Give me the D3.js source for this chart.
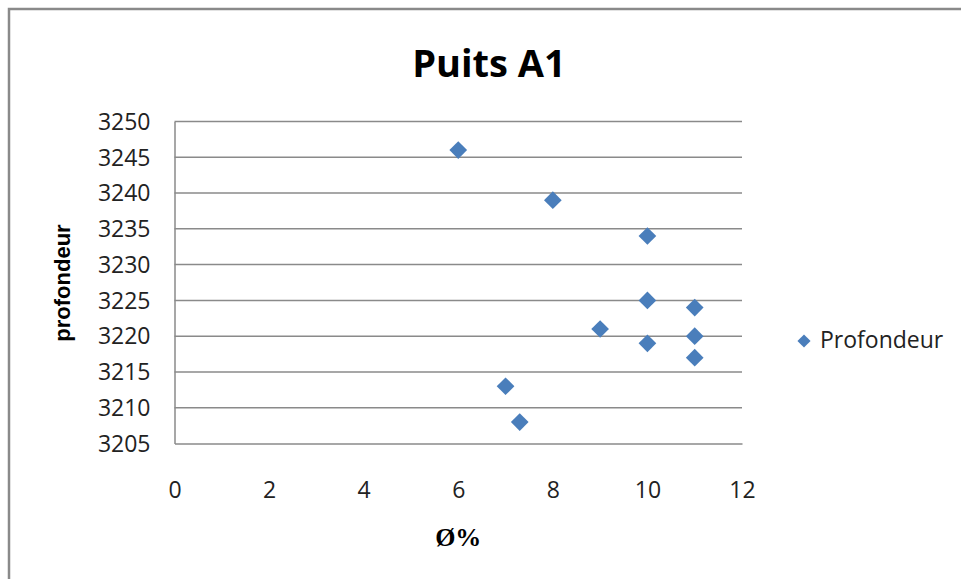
<!DOCTYPE html>
<html>
<head>
<meta charset="utf-8">
<script src="https://cdn.jsdelivr.net/npm/d3@7"></script>
<style>
  body { margin: 0; background: #fff; }
  .tick-label { font-family: "Open Sans", sans-serif; font-size: 23px; fill: #222; }
</style>
</head>
<body>
<div id="chart"></div>
<script>
// values
const porosite = [6, 8, 10, 10, 11, 9, 11, 10, 11, 7, 7.3];
const profondeur = [3246, 3239, 3234, 3225, 3224, 3221, 3220, 3219, 3217, 3213, 3208];
const xTicks = [0, 2, 4, 6, 8, 10, 12];
const yTicks = [3205, 3210, 3215, 3220, 3225, 3230, 3235, 3240, 3245, 3250];
const seriesName = 'Profondeur';

let W = 961, H = 579,
    margin = {top: 121.5, left: 174.5, right: 219, bottom: 135.5},
    blue = '#4a7ebb',
    grey = '#8a8a8a';

let svg = d3.select('#chart').append('svg')
    .attr('width', W)
    .attr('height', H);

// frame of the chart object (only top and left edges show)
svg.append('path')
    .attr('d', `M9,${H} V9 H${W}`)
    .attr('fill', 'none')
    .attr('stroke', grey)
    .attr('stroke-width', 2.5);

let xScale = d3.scaleLinear()
        .domain([0, 12])
        .range([margin.left, W - margin.right]),
    yScale = d3.scaleLinear()
        .domain([3205, 3250])
        .range([H - margin.bottom, margin.top]);

// horizontal gridlines
svg.append('g')
    .selectAll('line')
    .data(yTicks.slice(1))
    .join('line')
    .attr('x1', margin.left)
    .attr('x2', W - margin.right)
    .attr('y1', d => yScale(d))
    .attr('y2', d => yScale(d))
    .attr('stroke', grey)
    .attr('stroke-width', 1.5);

// y axis
let yAxis = svg.append('g')
    .attr('transform', `translate(${margin.left},0)`)
    .call(d3.axisLeft(yScale).tickValues(yTicks).tickSize(0).tickPadding(24).tickFormat(d3.format('d')));
yAxis.select('.domain').attr('stroke', grey).attr('stroke-width', 1.5);
yAxis.selectAll('text').attr('class', 'tick-label').attr('dy', '0.34em');

// x axis
let xAxis = svg.append('g')
    .attr('transform', `translate(0,${H - margin.bottom})`)
    .call(d3.axisBottom(xScale).tickValues(xTicks).tickSize(0).tickPadding(46));
xAxis.select('.domain').attr('stroke', grey).attr('stroke-width', 1.5);
xAxis.selectAll('text').attr('class', 'tick-label').attr('dy', '0.35em');

// diamonds
let diamond = d3.symbol().type(d3.symbolDiamond2).size(200);
svg.append('g')
    .selectAll('path')
    .data(porosite.map((p, i) => ({x: p, y: profondeur[i]})))
    .join('path')
    .attr('d', diamond)
    .attr('transform', d => `translate(${xScale(d.x)},${yScale(d.y)})`)
    .attr('fill', blue);

// title
svg.append('text')
    .attr('x', 489)
    .attr('y', 77)
    .attr('text-anchor', 'middle')
    .style('font-family', '"Open Sans", sans-serif')
    .style('font-weight', 'bold')
    .style('font-size', '38px')
    .style('fill', '#000')
    .text('Puits A1');

// y axis title
svg.append('text')
    .attr('transform', `translate(70,283) rotate(-90)`)
    .attr('text-anchor', 'middle')
    .style('font-family', '"Liberation Sans", Arial, sans-serif')
    .style('font-weight', 'bold')
    .style('font-size', '22px')
    .style('fill', '#000')
    .text('profondeur');

// x axis title
svg.append('text')
    .attr('x', (margin.left + W - margin.right) / 2)
    .attr('y', 546)
    .attr('text-anchor', 'middle')
    .style('font-family', '"Liberation Serif", "Times New Roman", serif')
    .style('font-weight', 'bold')
    .style('font-size', '26px')
    .style('fill', '#000')
    .text('Ø%');

// legend
let legend = svg.append('g').attr('transform', 'translate(804,341)');
legend.append('path')
    .attr('d', d3.symbol().type(d3.symbolDiamond2).size(110))
    .attr('fill', blue);
legend.append('text')
    .attr('x', 16)
    .attr('y', 7)
    .style('font-family', '"Open Sans", sans-serif')
    .style('font-size', '23px')
    .style('fill', '#222')
    .text(seriesName);
</script>
</body>
</html>
